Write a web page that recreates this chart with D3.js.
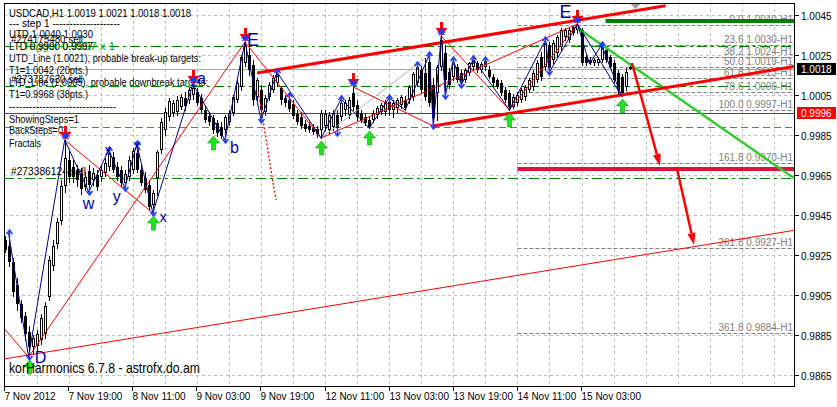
<!DOCTYPE html>
<html><head><meta charset="utf-8">
<script src="https://cdn.jsdelivr.net/npm/d3@7"></script>
<style>body{margin:0;background:#fff}svg{display:block}text{font-family:"Liberation Sans",Arial,sans-serif}</style>
</head><body><svg id="c" width="837" height="407"></svg>
<script>
// ---------- DATA ----------
const open=[0.99325,0.99295,0.99215,0.99100,0.99005,0.98945,0.98865,0.98790,0.98795,0.98825,
0.98855,0.99040,0.99195,0.99305,0.99420,0.99595,0.99725,0.99690,0.99675,0.99655,
0.99590,0.99670,0.99625,0.99650,0.99640,0.99660,0.99690,0.99740,0.99690,0.99675,
0.99610,0.99640,0.99675,0.99760,0.99675,0.99635,0.99600,0.99500,0.99635,0.99775,
0.99875,0.99940,0.99960,0.99965,0.99990,1.00035,1.00025,1.00050,1.00065,1.00035,
0.99975,0.99945,0.99935,0.99910,0.99890,0.99875,0.99915,0.99960,1.00025,1.00090,
1.00210,1.00250,1.00200,1.00040,1.00075,0.99965,1.00040,1.00075,1.00110,1.00085,
1.00035,1.00025,1.00005,0.99955,0.99940,0.99905,0.99895,0.99885,0.99880,0.99875,
0.99895,0.99875,0.99890,0.99950,0.99940,0.99975,0.99950,1.00060,1.00000,0.99960,
0.99940,0.99925,0.99925,0.99950,0.99965,0.99965,1.00015,0.99975,0.99985,1.00000,
1.00025,1.00025,1.00040,1.00110,1.00175,1.00160,1.00215,1.00100,1.00060,1.00190,
1.00260,1.00165,1.00140,1.00190,1.00160,1.00125,1.00160,1.00190,1.00210,1.00175,
1.00190,1.00175,1.00140,1.00125,1.00110,1.00075,1.00060,0.99990,1.00010,1.00025,
1.00040,1.00075,1.00090,1.00125,1.00240,1.00190,1.00300,1.00225,1.00260,1.00290,
1.00340,1.00325,1.00390,1.00375,1.00375,1.00240,1.00225,1.00210,1.00210,1.00225,
1.00275,1.00240,1.00210,1.00160,1.00140,1.00090,1.00190];
const high=[0.99345,0.99360,0.99235,0.99135,0.99025,0.98965,0.98895,0.98850,0.98875,0.98955,
0.99015,0.99245,0.99325,0.99435,0.99625,0.99825,0.99775,0.99725,0.99700,0.99685,
0.99665,0.99700,0.99685,0.99675,0.99700,0.99735,0.99775,0.99765,0.99715,0.99695,
0.99675,0.99745,0.99785,0.99805,0.99700,0.99665,0.99625,0.99575,0.99775,0.99935,
0.99985,1.00035,1.00025,1.00045,1.00055,1.00065,1.00085,1.00105,1.00085,1.00055,
0.99995,0.99965,0.99950,0.99925,0.99915,0.99950,0.99975,1.00050,1.00125,1.00250,
1.00315,1.00285,1.00225,1.00135,1.00100,1.00050,1.00115,1.00150,1.00165,1.00095,
1.00050,1.00045,1.00025,0.99975,0.99965,0.99925,0.99915,0.99905,0.99895,0.99975,
0.99975,0.99965,0.99975,0.99975,1.00030,1.00025,1.00040,1.00090,1.00025,0.99975,
0.99955,0.99945,0.99975,0.99995,1.00010,1.00025,1.00035,1.00025,1.00035,1.00050,
1.00045,1.00100,1.00165,1.00200,1.00195,1.00235,1.00250,1.00135,1.00200,1.00345,
1.00300,1.00185,1.00225,1.00205,1.00175,1.00185,1.00215,1.00230,1.00220,1.00215,
1.00225,1.00195,1.00155,1.00135,1.00125,1.00090,1.00075,1.00055,1.00065,1.00085,
1.00100,1.00135,1.00175,1.00225,1.00265,1.00325,1.00315,1.00325,1.00350,1.00385,
1.00385,1.00390,1.00395,1.00405,1.00385,1.00250,1.00240,1.00235,1.00235,1.00300,
1.00285,1.00250,1.00225,1.00175,1.00155,1.00185,1.00210];
const low=[0.99265,0.99195,0.99045,0.98975,0.98915,0.98825,0.98740,0.98755,0.98765,0.98805,
0.98835,0.99025,0.99175,0.99285,0.99405,0.99565,0.99615,0.99615,0.99595,0.99555,
0.99575,0.99565,0.99600,0.99575,0.99620,0.99645,0.99675,0.99665,0.99625,0.99595,
0.99585,0.99625,0.99660,0.99665,0.99600,0.99565,0.99475,0.99460,0.99550,0.99760,
0.99850,0.99925,0.99945,0.99950,0.99980,0.99975,1.00010,1.00030,1.00000,0.99965,
0.99915,0.99900,0.99860,0.99845,0.99835,0.99825,0.99900,0.99950,1.00015,1.00075,
1.00195,1.00150,1.00000,1.00025,0.99925,0.99950,1.00025,1.00065,1.00095,1.00005,
0.99995,0.99970,0.99935,0.99905,0.99885,0.99870,0.99865,0.99855,0.99840,0.99835,
0.99875,0.99860,0.99875,0.99860,0.99925,0.99950,0.99935,0.99975,0.99925,0.99915,
0.99900,0.99885,0.99915,0.99935,0.99955,0.99950,0.99950,0.99940,0.99965,0.99985,
0.99975,1.00010,1.00025,1.00095,1.00065,1.00025,0.99995,0.99895,0.99925,1.00175,
1.00045,1.00085,1.00125,1.00115,1.00100,1.00115,1.00150,1.00175,1.00165,1.00165,
1.00175,1.00135,1.00100,1.00085,1.00050,1.00015,0.99975,0.99985,1.00000,1.00015,
1.00025,1.00065,1.00075,1.00115,1.00125,1.00175,1.00165,1.00210,1.00245,1.00275,
1.00325,1.00315,1.00350,1.00360,1.00200,1.00200,1.00205,1.00200,1.00200,1.00215,
1.00215,1.00185,1.00115,1.00055,1.00045,1.00075,1.00180];
const close=[0.99275,0.99215,0.99065,0.99005,0.98935,0.98855,0.98790,0.98835,0.98855,0.98935,
0.98995,0.99225,0.99295,0.99415,0.99595,0.99735,0.99640,0.99640,0.99625,0.99580,
0.99640,0.99600,0.99660,0.99590,0.99675,0.99710,0.99760,0.99675,0.99640,0.99610,
0.99655,0.99725,0.99770,0.99675,0.99610,0.99575,0.99490,0.99560,0.99765,0.99915,
0.99965,1.00020,1.00010,1.00025,1.00040,0.99995,1.00075,1.00085,1.00010,0.99975,
0.99925,0.99915,0.99875,0.99860,0.99845,0.99940,0.99960,1.00040,1.00110,1.00240,
1.00300,1.00175,1.00025,1.00125,0.99975,1.00035,1.00100,1.00135,1.00155,1.00025,
1.00010,0.99980,0.99945,0.99915,0.99895,0.99880,0.99875,0.99865,0.99855,0.99960,
0.99955,0.99950,0.99960,0.99885,1.00010,1.00010,1.00025,0.99990,0.99940,0.99925,
0.99910,0.99890,0.99960,0.99985,1.00000,1.00015,0.99975,1.00010,1.00025,1.00040,
0.99985,1.00090,1.00155,1.00190,1.00075,1.00040,1.00010,0.99935,1.00190,1.00325,
1.00125,1.00100,1.00210,1.00125,1.00110,1.00175,1.00210,1.00225,1.00175,1.00205,
1.00220,1.00140,1.00110,1.00090,1.00060,1.00025,0.99990,1.00040,1.00050,1.00075,
1.00090,1.00125,1.00160,1.00210,1.00140,1.00310,1.00185,1.00310,1.00340,1.00375,
1.00375,1.00375,1.00360,1.00400,1.00210,1.00210,1.00210,1.00225,1.00230,1.00290,
1.00225,1.00190,1.00125,1.00075,1.00060,1.00165,1.00180];

const timeLabels=["7 Nov 2012","7 Nov 19:00","8 Nov 11:00","9 Nov 03:00","9 Nov 19:00","12 Nov 11:00","13 Nov 03:00","13 Nov 19:00","14 Nov 11:00","15 Nov 03:00"];
const timeLabelBars=[0,16,32,48,64,80,96,112,128,144];
const priceTicks=[0.9865,0.9885,0.9905,0.9925,0.9945,0.9965,0.9985,1.0005,1.0025,1.0045];

const bidPrice=1.0018, redLevel=0.9996;
const greenDashLevels=[1.00295,1.00095,0.99635];
const orangeLevel=0.9989;
const targetUp=1.0042, targetDown=0.9968;

const fibPct=["0.0","23.6","38.2","50.0","61.8","78.6","100.0","161.8","261.8","361.8"];
const fibPrice=[1.00400,1.00300,1.00238,1.00188,1.00137,1.00066,0.99975,0.99712,0.99287,0.98862];
const fibText=["1.0040","1.0030","1.0024","1.0019","1.0013","1.0006","0.9997","0.9970","0.9927","0.9884"];
const fibStartBar=128;

// trend lines: [bar1, price1, bar2, price2]
const channelLines=[[63,1.00160,165,1.00496],[107,0.99895,197,1.00192]];
const thinRedLines=[[-0.2,0.98730,197,0.99373],[-0.2,0.98885,6,0.98740],[6,0.98740,60,1.00315],
 [60,1.00315,79,0.99835],[79,0.99835,143,1.00405],[87,1.00090,107,0.99895],[109,1.00345,126,0.99975],
 [126,0.99975,143,1.00405],[15,0.99825,37,0.99460]];
const grayLines=[[79,0.99835,106,1.00250]];
const limeLine=[143,1.00385,197,0.99635];
const redArrows=[[156.6,1.00210,163.6,0.99695],[167.8,0.99685,172.1,0.99300]];
const dottedBars=[63.3,64.3,65.3,66.3,67.1,67.8];
const dottedPrices=[1.00065,0.99950,0.99825,0.99700,0.99600,0.99525];

const blueZig=[[1,'H'],[6,'L'],[15,'H'],[21,'L'],[26,'H'],[30,'L'],[33,'H'],[37,'L'],[47,'H'],[55,'L'],[60,'H'],[64,'L'],[68,'H'],[79,'L'],[84,'H'],[91,'L'],[96,'H'],[100,'L'],[106,'H'],[107,'L'],[109,'H'],[110,'L'],[112,'H'],[114,'L'],[117,'H'],[126,'L'],[135,'H'],[136,'L'],[143,'H'],[146,'L'],[149,'H'],[154,'L']];
const blueZig2=[[143,'H'],[154,'L']];
const upArrowBars=[1,26,33,68,71,84,96,103,106,112,117,120,135,149];
const downArrowBars=[6,21,30,37,55,64,83,107,110,114,136];
const redStarBars=[15,47,60,87,109,143];
const greenArrowBars=[6,37,52,79,91,126,154];
const waveLabels=[["E",60,'H'],["a",47,'H'],["b",55,'L'],["w",21,'L'],["y",30,'L'],["x",26,'H'],["x",33,'H'],["x",37,'L'],["D",6,'L'],["E",143,'H']];

const infoLines=["USDCAD,H1  1.0019 1.0021 1.0018 1.0018","---   step 1   --------------------","UTD 1.0040  1.0030","#274175480 sell","Trigger 0.9997 x 1","LTD 0.9990  0.9997","UTD_Line (1.0021), probable break-up targets:","T1=1.0042 (20pts.)","#273787630 sell","LTD_Line (1.0005), probable downbreak targets:","T1=0.9968 (38pts.)","--------------------------------","ShowingSteps=1","BackSteps=0","Fractals","#273386124 sell"];
const footer="korHarmonics 6.7.8 - astrofx.do.am";

// ---------- LAYOUT ----------
const L=4,T=3,R=795,B=387;
const x=d3.scaleLinear().domain([0,16]).range([4.6,68.7]);
const y=d3.scaleLinear().domain([0.9865,1.0045]).range([375,15]);
const svg=d3.select("#c");
svg.append("rect").attr("width",837).attr("height",407).attr("fill","#fff");
svg.append("defs").append("clipPath").attr("id","pc").append("rect").attr("x",L).attr("y",T).attr("width",R-L).attr("height",B-T);
const g=svg.append("g").attr("clip-path","url(#pc)");
const px=v=>Math.round(v)+0.5;

// grid
const nBars=Math.floor(x.invert(R));
const vgrid=d3.range(8,nBars+1,8);
g.selectAll(".vg").data(vgrid).join("line").attr("x1",d=>px(x(d))).attr("x2",d=>px(x(d))).attr("y1",T).attr("y2",B)
 .attr("stroke","#c0c0c0").attr("stroke-dasharray","3,3");
g.selectAll(".hg").data(priceTicks).join("line").attr("x1",L).attr("x2",R).attr("y1",d=>px(y(d))).attr("y2",d=>px(y(d)))
 .attr("stroke","#c0c0c0").attr("stroke-dasharray","3,3");

// horizontal levels
function hline(p,color,w,dash,x0){g.append("line").attr("x1",x0===undefined?L:x(x0)).attr("x2",R).attr("y1",px(y(p))).attr("y2",px(y(p)))
 .attr("stroke",color).attr("stroke-width",w).attr("stroke-dasharray",dash||null);}
greenDashLevels.forEach(p=>hline(p,"#008000",1,"10,4,3,4"));
hline(orangeLevel,"#ff4500",1,"7,4");
hline(bidPrice,"#a8a8a8",1);
hline(redLevel,"#ff0000",1);

// fibo
fibPrice.forEach((p,i)=>{
  g.append("line").attr("x1",x(fibStartBar)).attr("x2",R).attr("y1",px(y(p))).attr("y2",px(y(p))).attr("stroke","#808080").attr("stroke-dasharray","4,2");
  g.append("text").attr("x",793).attr("y",Math.round(y(p))-2).attr("text-anchor","end").attr("font-size",10).attr("fill","#808080")
   .text(fibPct[i]+" "+fibText[i]+"-H1");
});
g.append("line").attr("x1",x(150)).attr("x2",R).attr("y1",y(targetUp)).attr("y2",y(targetUp)).attr("stroke","#008000").attr("stroke-width",4);
g.append("line").attr("x1",x(fibStartBar)).attr("x2",R).attr("y1",y(targetDown)).attr("y2",y(targetDown)).attr("stroke","#dc143c").attr("stroke-width",4);

// info texts
const infoLayout=[[9,17,182],[9,27,111],[9,38,84],[11,43,72],[23,50,92],[9,50,84],[9,62,192],[9,74,79],[11,83,72],[9,86,199],[9,98,79],[9,110,107],[9,123,70],[9,134,54],[9,147,32],[11,175,75]];
infoLines.forEach((t,i)=>{const [tx,ty,tw]=infoLayout[i];
  g.append("text").attr("x",tx).attr("y",ty).attr("font-size",11).attr("fill",i===4?"#00a000":"#000")
   .attr("textLength",tw).attr("lengthAdjust","spacingAndGlyphs").text(t);});

// candles
const idx=d3.range(open.length);
const cg=g.append("g");
idx.forEach(i=>{
  const cx=Math.round(x(i));
  cg.append("line").attr("x1",cx+0.5).attr("x2",cx+0.5).attr("y1",Math.round(y(high[i]))).attr("y2",Math.round(y(low[i]))+1).attr("stroke","#000");
  const top=Math.round(y(Math.max(open[i],close[i]))), bot=Math.round(y(Math.min(open[i],close[i])));
  const h=Math.max(1,bot-top);
  if(close[i]>open[i] && h>=2){
    cg.append("rect").attr("x",cx-0.5).attr("y",top+0.5).attr("width",2).attr("height",h-1).attr("fill","#fff").attr("stroke","#000");
  } else {
    cg.append("rect").attr("x",cx-1).attr("y",top).attr("width",3).attr("height",h).attr("fill","#000");
  }
});

// lines
const seg=(arr,color,w,dash)=>arr.forEach(s=>g.append("line").attr("x1",x(s[0])).attr("y1",y(s[1])).attr("x2",x(s[2])).attr("y2",y(s[3]))
  .attr("stroke",color).attr("stroke-width",w).attr("stroke-dasharray",dash||null));
seg(grayLines,"#b0b0b0",1);
seg(thinRedLines,"#ff0000",1);
seg([limeLine],"#32cd32",2.5);
seg(channelLines,"#ff0000",3);
g.append("path").datum(dottedBars.map((b,i)=>[b,dottedPrices[i]]))
 .attr("d",d3.line().x(d=>x(d[0])).y(d=>y(d[1])).curve(d3.curveCatmullRom)).attr("fill","none").attr("stroke","#ff0000").attr("stroke-width",1.3).attr("stroke-dasharray","2,2");

// zigzag
const zp=d=>[x(d[0]),y(d[1]==='H'?high[d[0]]:low[d[0]])];
[blueZig,blueZig2].forEach(z=>g.append("path").datum(z).attr("d",d3.line().x(d=>zp(d)[0]).y(d=>zp(d)[1])).attr("fill","none").attr("stroke","#000080").attr("stroke-width",1));

// red arrows
redArrows.forEach(a=>{
  const x1=x(a[0]),y1=y(a[1]),x2=x(a[2]),y2=y(a[3]);
  const ang=Math.atan2(y2-y1,x2-x1),hl=12,hw=4;
  const bx=x2-hl*Math.cos(ang),by=y2-hl*Math.sin(ang);
  g.append("line").attr("x1",x1).attr("y1",y1).attr("x2",bx).attr("y2",by).attr("stroke","#ff0000").attr("stroke-width",2.5);
  g.append("path").attr("d",`M${x2},${y2}L${bx-hw*Math.sin(ang)},${by+hw*Math.cos(ang)}L${bx+hw*Math.sin(ang)},${by-hw*Math.cos(ang)}Z`).attr("fill","#ff0000");
});

// blue fractal arrows
upArrowBars.forEach(b=>{const cx=Math.round(x(b))+0.5,yy=Math.round(y(high[b]));
  g.append("path").attr("d",`M${cx-3},${yy+1}L${cx},${yy-3}L${cx+3},${yy+1}M${cx},${yy-3}L${cx},${yy+5}`).attr("fill","none").attr("stroke","#1e3cff").attr("stroke-width",1.5);});
downArrowBars.forEach(b=>{const cx=Math.round(x(b))+0.5,yy=Math.round(y(low[b]));
  g.append("path").attr("d",`M${cx-3},${yy-1}L${cx},${yy+3}L${cx+3},${yy-1}M${cx},${yy+3}L${cx},${yy-5}`).attr("fill","none").attr("stroke","#1e3cff").attr("stroke-width",1.5);});

// red sell stars
redStarBars.forEach(b=>{const cx=Math.round(x(b))+0.5,yy=Math.round(y(high[b]));
  g.append("rect").attr("x",cx-1.5).attr("y",yy-14).attr("width",3).attr("height",8).attr("fill","#ff0000");
  g.append("path").attr("d",`M${cx-6},${yy-8}L${cx+6},${yy-8}L${cx},${yy}Z`).attr("fill","#ff0000");
  g.append("path").attr("d",`M${cx-4},${yy-4}L${cx+4},${yy-4}M${cx-3},${yy-7}L${cx+3},${yy-1}M${cx+3},${yy-7}L${cx-3},${yy-1}M${cx},${yy-8}L${cx},${yy}`).attr("stroke","#1e3cff").attr("stroke-width",1.3);
});
// green buy arrows
greenArrowBars.forEach(b=>{const cx=Math.round(x(b))+0.5,yy=Math.round(y(low[b]));
  g.append("path").attr("d",`M${cx},${yy+3}L${cx+6},${yy+10}L${cx+2},${yy+10}L${cx+2},${yy+17}L${cx-2},${yy+17}L${cx-2},${yy+10}L${cx-6},${yy+10}Z`)
   .attr("fill","#22e022").attr("stroke","#10a010").attr("stroke-width",0.6);
});

// wave labels
const labelLayout=[[2,4,18],[4,0,16],[5,13,16],[-6,17,16],[-12,14,16],[-4,5,14],[-3,6,14],[7,9,14],[6,6,16],[-18,-6,18]];
waveLabels.forEach((l,i)=>{const [dx,dy,fs]=labelLayout[i];
  g.append("text").attr("x",x(l[1])+dx).attr("y",y(l[2]==='H'?high[l[1]]:low[l[1]])+dy).attr("font-size",fs).attr("fill","#00009c").text(l[0]);});

// footer
g.append("text").attr("x",9).attr("y",373).attr("font-size",15).attr("fill","#000").attr("textLength",191).attr("lengthAdjust","spacingAndGlyphs").text(footer);

// chart shift marker
svg.append("path").attr("d",`M${x(157.5)-5},${T+1}L${x(157.5)+5},${T+1}L${x(157.5)},${T+6}Z`).attr("fill","#a0a0a0");

// frame
svg.append("rect").attr("x",L+0.5).attr("y",T+0.5).attr("width",R-L-1).attr("height",B-T-1).attr("fill","none").attr("stroke","#000");

// right axis
priceTicks.forEach(p=>{const yy=px(y(p));
  svg.append("line").attr("x1",R).attr("x2",R+4).attr("y1",yy).attr("y2",yy).attr("stroke","#000");
  svg.append("text").attr("x",R+6).attr("y",yy+4).attr("font-size",10).attr("fill","#000").text(p.toFixed(4));});
[[bidPrice,"#000"],[redLevel,"#ff0000"]].forEach(([p,c])=>{const yy=Math.round(y(p));
  svg.append("rect").attr("x",R+2).attr("y",yy-6).attr("width",39).attr("height",12).attr("fill",c);
  svg.append("text").attr("x",R+6).attr("y",yy+4).attr("font-size",10).attr("fill","#fff").text(p.toFixed(4));});

// bottom axis
timeLabelBars.forEach((b,i)=>{const xx=px(x(b)-0.6);
  svg.append("line").attr("x1",xx).attr("x2",xx).attr("y1",B).attr("y2",B+4).attr("stroke","#000");
  svg.append("text").attr("x",xx).attr("y",400).attr("font-size",10).attr("fill","#000").text(timeLabels[i]);});
</script></body></html>
